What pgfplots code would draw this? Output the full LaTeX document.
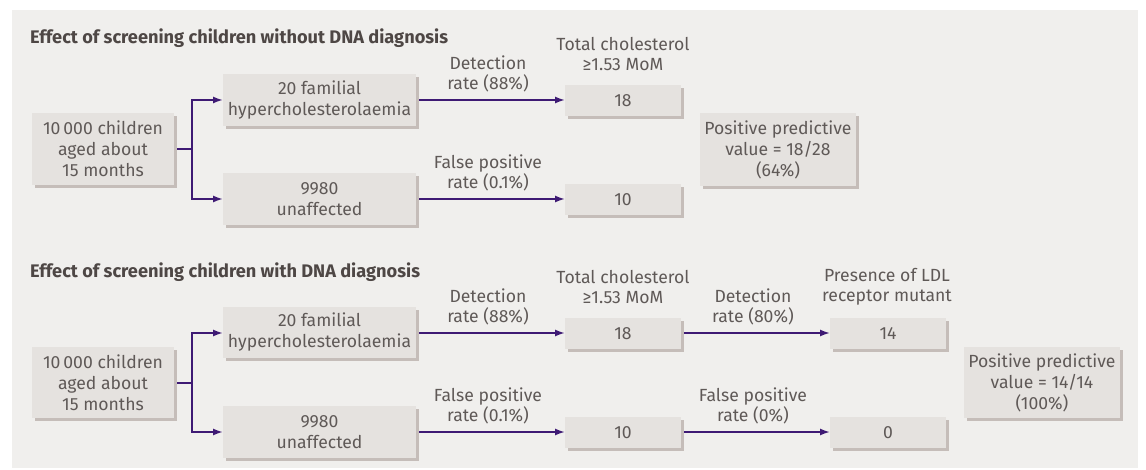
\documentclass[border=0pt]{standalone}
\usepackage{fontspec}
\setmainfont{Fira Sans}
\usepackage{pgfplots}
\pgfplotsset{compat=1.18}
\usetikzlibrary{arrows.meta}
\definecolor{bgcol}{HTML}{F0EFED}
\definecolor{boxcol}{HTML}{E5E2DF}
\definecolor{shcol}{HTML}{C5BDB9}
\definecolor{txtcol}{HTML}{5F5957}
\definecolor{ttlcol}{HTML}{4E4745}
\definecolor{arrcol}{HTML}{3E1A74}
\tikzset{
  txt/.style={align=center, text=txtcol, font=\fontsize{17.6}{21}\selectfont, inner sep=0pt},
  lab/.style={align=center, text=txtcol, font=\fontsize{17.6}{20.5}\selectfont, inner sep=0pt},
  ttl/.style={anchor=west, text=ttlcol, font=\fontsize{18.2}{20}\selectfont\bfseries, inner sep=0pt},
}
\pgfplotsset{
  ln/.style={arrcol, line width=1.7pt, no markers},
  arr/.style={arrcol, line width=1.7pt, no markers, -{Latex[length=10pt,width=7pt]}},
}
\newcommand{\bx}[5]{%
  \fill[shcol] (axis cs:#1+3,#2+3) rectangle (axis cs:#3+3,#4+3);
  \fill[boxcol] (axis cs:#1,#2) rectangle (axis cs:#3,#4);
  \node[txt] at (axis cs:{(#1+#3)/2},{(#2+#4)/2}) {#5};}
\begin{document}
\begin{tikzpicture}
\begin{axis}[
  scale only axis, width=1146pt, height=470pt,
  xmin=0, xmax=1146, ymin=0, ymax=470, y dir=reverse,
  axis lines=none, clip=false,
]
\path (axis cs:0,0) rectangle (axis cs:1146,470);
\fill[bgcol] (axis cs:12,10) rectangle (axis cs:1138,468);

% ---- top panel
\node[ttl] at (axis cs:30,38) {Effect of screening children without DNA diagnosis};
\addplot[ln] coordinates {(174,149) (192,149)};
\addplot[ln] coordinates {(192,100) (192,199)};
\addplot[arr] coordinates {(191.2,100) (223,100)};
\addplot[arr] coordinates {(191.2,199) (223,199)};
\addplot[arr] coordinates {(416,100) (565,100)};
\addplot[arr] coordinates {(416,199) (565,199)};
\bx{32}{113}{174}{185}{10\,000 children\\aged about\\15 months}
\bx{223}{74}{416}{126}{20 familial\\hypercholesterolaemia}
\bx{223}{173}{416}{225}{9980\\unaffected}
\bx{565}{85}{681}{116}{18}
\bx{565}{184}{681}{215}{10}
\bx{700}{113}{856}{186}{Positive predictive\\value = 18/28\\(64\%)}
\node[lab] at (axis cs:488,74) {Detection\\rate (88\%)};
\node[lab] at (axis cs:488,173) {False positive\\rate (0.1\%)};
\node[lab] at (axis cs:623,54) {Total cholesterol\\≥1.53 MoM};

% ---- bottom panel
\node[ttl] at (axis cs:30,272) {Effect of screening children with DNA diagnosis};
\addplot[ln] coordinates {(174,383) (192,383)};
\addplot[ln] coordinates {(192,333) (192,432)};
\addplot[arr] coordinates {(191.2,333) (223,333)};
\addplot[arr] coordinates {(191.2,432) (223,432)};
\addplot[arr] coordinates {(416,333) (565,333)};
\addplot[arr] coordinates {(416,432) (565,432)};
\addplot[arr] coordinates {(681,333) (830,333)};
\addplot[arr] coordinates {(681,432) (830,432)};
\bx{32}{347}{174}{418}{10\,000 children\\aged about\\15 months}
\bx{223}{307}{416}{358}{20 familial\\hypercholesterolaemia}
\bx{223}{406}{416}{458}{9980\\unaffected}
\bx{565}{318}{681}{349}{18}
\bx{565}{417}{681}{448}{10}
\bx{830}{318}{946}{349}{14}
\bx{830}{417}{946}{448}{0}
\bx{964}{347}{1120}{418}{Positive predictive\\value = 14/14\\(100\%)}
\node[lab] at (axis cs:488,307) {Detection\\rate (88\%)};
\node[lab] at (axis cs:488,406) {False positive\\rate (0.1\%)};
\node[lab] at (axis cs:623,287) {Total cholesterol\\≥1.53 MoM};
\node[lab] at (axis cs:753,307) {Detection\\rate (80\%)};
\node[lab] at (axis cs:753,406) {False positive\\rate (0\%)};
\node[lab] at (axis cs:887,287) {Presence of LDL\\receptor mutant};
\end{axis}
\end{tikzpicture}
\end{document}
